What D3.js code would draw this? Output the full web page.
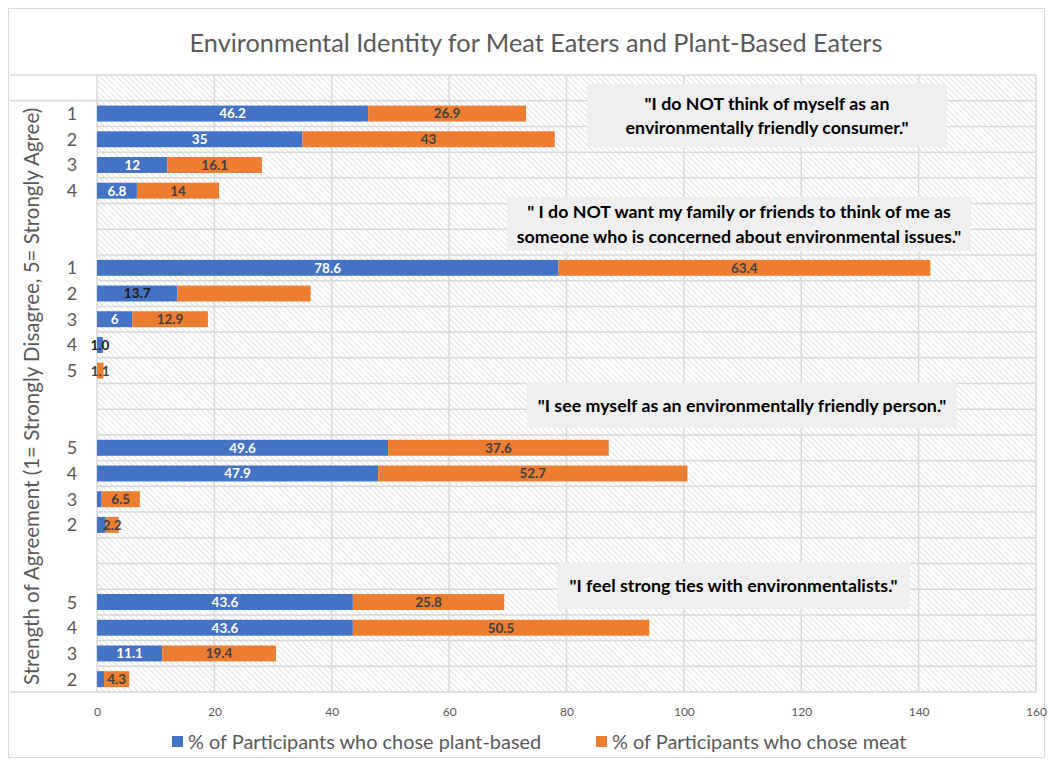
<!DOCTYPE html>
<html>
<head>
<meta charset="utf-8">
<script src="https://cdn.jsdelivr.net/npm/d3@7"></script>
<style>
  html, body { margin: 0; padding: 0; background: #fff; }
  svg { display: block; }
  text { font-family: Lato, "Noto Sans", sans-serif; }
</style>
</head>
<body>
<svg id="chart" width="1050" height="767"></svg>
<script>
// Rows listed top to bottom; empty strings are spacer rows between statements.
const rowLabels = ["", "1", "2", "3", "4", "", "", "1", "2", "3", "4", "5", "", "",
                   "5", "4", "3", "2", "", "", "5", "4", "3", "2"];

// % of participants who chose plant-based
const plantBased = [null, 46.2, 35, 12, 6.8, null, null, 78.6, 13.7, 6, 1.0, 0, null, null,
                    49.6, 47.9, 0.8, 1.5, null, null, 43.6, 43.6, 11.1, 1.2];
// % of participants who chose meat
const meat = [null, 26.9, 43, 16.1, 14, null, null, 63.4, 22.7, 12.9, 0, 1.1, null, null,
              37.6, 52.7, 6.5, 2.2, null, null, 25.8, 50.5, 19.4, 4.3];

// Rows whose data label is not shown, per series
const plantHiddenLabels = [11, 16, 17, 23];
const meatHiddenLabels = [8, 10];
// Rows whose plant-based label is drawn in dark text
const plantDarkLabels = [8, 10];
// Rows whose label keeps one decimal
const plantFixedLabels = [10];

const xTicks = [0, 20, 40, 60, 80, 100, 120, 140, 160];

const seriesNames = ["% of Participants who chose plant-based", "% of Participants who chose meat"];

const statements = [
  { lines: ["\"I do NOT think of myself as an", "environmentally friendly consumer.\""] },
  { lines: ["\" I do NOT want my family or friends to think of me as", "someone who is concerned about environmental issues.\""] },
  { lines: ["\"I see myself as an environmentally friendly person.\""] },
  { lines: ["\"I feel strong ties with environmentalists.\""] }
];

const title = "Environmental Identity for Meat Eaters and Plant-Based Eaters";
const yTitle = "Strength of Agreement (1= Strongly Disagree, 5= Strongly Agree)";

// ---- drawing ----
const svg = d3.select("#chart");
const BLUE = "#4472C4", ORANGE = "#ED7D31", GRID = "#d9d9d9", TXT = "#595959";

const plot = { left: 97, right: 1036, top: 75, bottom: 692 };

const x = d3.scaleLinear().domain([0, 160]).range([plot.left, plot.right]);
const y = d3.scaleBand().domain(d3.range(rowLabels.length))
  .range([plot.top, plot.bottom]).paddingInner(0.38).paddingOuter(0.19);
const step = y.step();

// Hatch fill for the plot area
const defs = svg.append("defs");
const pat = defs.append("pattern").attr("id", "hatch")
  .attr("patternUnits", "userSpaceOnUse").attr("width", 4).attr("height", 4)
  .attr("patternTransform", "rotate(-45)");
pat.append("rect").attr("width", 4).attr("height", 4).attr("fill", "#ffffff");
pat.append("line").attr("x1", 0).attr("y1", 0).attr("x2", 0).attr("y2", 4)
  .attr("stroke", "#cbcbcb").attr("stroke-width", 1.1);

// Chart frame
svg.append("rect").attr("x", 8.5).attr("y", 8.5).attr("width", 1036).attr("height", 749)
  .attr("fill", "#fff").attr("stroke", GRID).attr("stroke-width", 1);

svg.append("rect").attr("x", plot.left).attr("y", plot.top)
  .attr("width", plot.right - plot.left).attr("height", plot.bottom - plot.top)
  .attr("fill", "url(#hatch)");

// Vertical gridlines
svg.append("g").selectAll("line").data(xTicks).join("line")
  .attr("x1", d => x(d)).attr("x2", d => x(d))
  .attr("y1", plot.top).attr("y2", plot.bottom)
  .attr("stroke", GRID).attr("stroke-width", 1.5);

// Horizontal gridlines at category boundaries
svg.append("g").selectAll("line").data(d3.range(rowLabels.length + 1)).join("line")
  .attr("x1", plot.left).attr("x2", plot.right)
  .attr("y1", i => plot.top + i * step).attr("y2", i => plot.top + i * step)
  .attr("stroke", GRID).attr("stroke-width", 1.5);

// Outer category group boundaries run across the label column
svg.append("g").selectAll("line").data([0, 1, rowLabels.length]).join("line")
  .attr("x1", 10).attr("x2", plot.left)
  .attr("y1", i => plot.top + i * step).attr("y2", i => plot.top + i * step)
  .attr("stroke", GRID).attr("stroke-width", 1.5);

// Stacked bars
const rowsData = d3.range(rowLabels.length).filter(i => plantBased[i] !== null)
  .map(i => ({ i, plant: plantBased[i], meat: meat[i] }));
const stack = d3.stack().keys(["plant", "meat"])(rowsData);
const colors = { plant: BLUE, meat: ORANGE };

const barG = svg.append("g");
stack.forEach(layer => {
  barG.append("g").attr("fill", colors[layer.key])
    .selectAll("rect").data(layer.filter(d => d[1] - d[0] > 0)).join("rect")
    .attr("x", d => x(d[0])).attr("width", d => x(d[1]) - x(d[0]))
    .attr("y", d => y(d.data.i)).attr("height", y.bandwidth());
});

// Data labels
const fmt = (v, fixed) => fixed ? v.toFixed(1) : String(v);
const labG = svg.append("g").attr("font-size", 13.5).attr("font-weight", 700)
  .attr("text-anchor", "middle");
stack.forEach(layer => {
  const hidden = layer.key === "plant" ? plantHiddenLabels : meatHiddenLabels;
  labG.selectAll(null).data(layer.filter(d => !hidden.includes(d.data.i))).join("text")
    .attr("x", d => (x(d[0]) + x(d[1])) / 2)
    .attr("y", d => y(d.data.i) + y.bandwidth() / 2)
    .attr("dy", "0.36em")
    .attr("fill", d => layer.key === "plant"
      ? (plantDarkLabels.includes(d.data.i) ? "#1a1a1a" : "#ffffff")
      : "#404040")
    .text(d => fmt(d.data[layer.key], layer.key === "plant" && plantFixedLabels.includes(d.data.i)));
});

// Category labels
svg.append("g").attr("font-size", 18).attr("fill", TXT).attr("text-anchor", "middle")
  .selectAll("text").data(d3.range(rowLabels.length)).join("text")
  .attr("x", 72).attr("y", i => y(i) + y.bandwidth() / 2).attr("dy", "0.36em")
  .text(i => rowLabels[i]);

// Outer category (axis title)
svg.append("text")
  .attr("transform", `translate(39, ${(plot.top + step + plot.bottom) / 2}) rotate(-90)`)
  .attr("text-anchor", "middle").attr("font-size", 20.5).attr("fill", TXT)
  .text(yTitle);

// X axis
const xAxis = svg.append("g").attr("transform", `translate(0, ${plot.bottom})`)
  .call(d3.axisBottom(x).tickValues(xTicks).tickSize(0).tickPadding(15));
xAxis.select(".domain").remove();
xAxis.selectAll("text").attr("font-size", 12).attr("fill", TXT)
  .attr("font-family", "Lato, sans-serif");

// Title
svg.append("text").attr("x", 536).attr("y", 43).attr("dy", "0.36em")
  .attr("text-anchor", "middle").attr("font-size", 25.3).attr("fill", TXT)
  .text(title);

// Statement boxes
const boxes = [
  { x0: 587, x1: 947, y0: 84, y1: 147 },
  { x0: 507, x1: 971, y0: 197, y1: 251 },
  { x0: 527, x1: 957, y0: 383, y1: 428 },
  { x0: 557, x1: 910, y0: 563, y1: 609 }
];
statements.forEach((s, k) => {
  const b = boxes[k];
  const g = svg.append("g");
  g.append("rect").attr("x", b.x0).attr("y", b.y0)
    .attr("width", b.x1 - b.x0).attr("height", b.y1 - b.y0).attr("fill", "#efefef");
  const cy = (b.y0 + b.y1) / 2, lh = 24.5;
  s.lines.forEach((line, j) => {
    g.append("text").attr("x", (b.x0 + b.x1) / 2)
      .attr("y", cy + (j - (s.lines.length - 1) / 2) * lh).attr("dy", "0.36em")
      .attr("text-anchor", "middle").attr("font-size", 17.8).attr("font-weight", 700)
      .attr("fill", "#000").text(line);
  });
});

// Legend
const legend = svg.append("g").attr("font-size", 19.9).attr("fill", TXT);
const legendItems = [
  { name: seriesNames[0], color: BLUE, x: 172 },
  { name: seriesNames[1], color: ORANGE, x: 596 }
];
legendItems.forEach(it => {
  legend.append("rect").attr("x", it.x).attr("y", 736).attr("width", 11).attr("height", 11)
    .attr("fill", it.color);
  legend.append("text").attr("x", it.x + 16).attr("y", 741.5).attr("dy", "0.36em")
    .text(it.name);
});
</script>
</body>
</html>
